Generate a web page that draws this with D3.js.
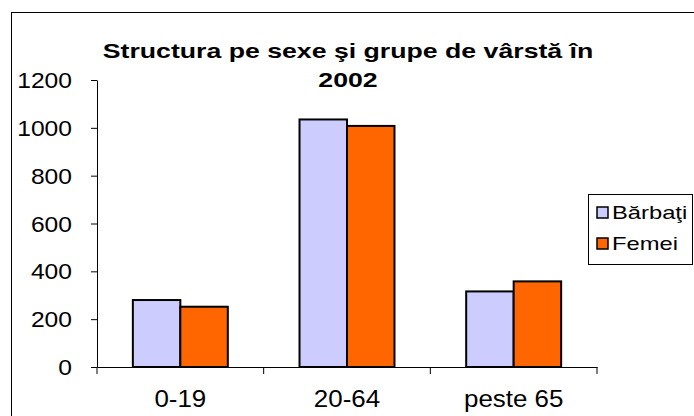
<!DOCTYPE html>
<script src="https://cdn.jsdelivr.net/npm/d3@7"></script>
<html>
    <head>
        <style>
            body { margin: 0; background: #fff; }
            text { font-family: "Liberation Sans", Arial, sans-serif; fill: #000; }
        </style>
    </head>
    <body>
        <div id="chart-div"></div>
        <script>
            // data
            const categories = ["0-19", "20-64", "peste 65"];
            const series = ["Bărbaţi", "Femei"];
            const barbati = [280, 1035, 316];
            const femei = [252, 1008, 358];
            const yTicks = [0, 200, 400, 600, 800, 1000, 1200];
            const titleLines = ["Structura pe sexe şi grupe de vârstă în", "2002"];
            const colors = ["#CCCCFF", "#FF6600"];

            const W = 694, H = 416;
            const margin = { top: 80, right: 97, bottom: 49, left: 97 };
            const width = W - margin.left - margin.right;
            const height = H - margin.top - margin.bottom;

            const root = d3.select("#chart-div")
                .append("svg")
                .attr("width", W)
                .attr("height", H);

            // outer chart frame (right and bottom edges fall outside the picture)
            root.append("rect")
                .attr("x", 11.5).attr("y", 12.5)
                .attr("width", W + 20).attr("height", H + 20)
                .attr("fill", "#fff").attr("stroke", "#000").attr("stroke-width", 1);

            // text is a bit wider than the font, so stretch it horizontally
            function label(sel, x, y, txt, size, sx, anchor, weight) {
                sel.append("g")
                    .attr("transform", "translate(" + x + "," + y + ") scale(" + sx + ",1)")
                    .append("text")
                    .attr("text-anchor", anchor)
                    .attr("font-size", size)
                    .attr("font-weight", weight || "normal")
                    .text(txt);
            }

            // title
            label(root, 348, 58, titleLines[0], 21, 1.27, "middle", "bold");
            label(root, 348, 87, titleLines[1], 21, 1.27, "middle", "bold");

            const svg = root.append("g")
                .attr("transform", "translate(" + margin.left + "," + margin.top + ")");

            const x = d3.scaleBand().domain(categories).range([0, width]).padding(0);
            const x1 = d3.scaleBand().domain(series).range([0, x.bandwidth()]).paddingOuter(0.755).paddingInner(0);
            const y = d3.scaleLinear().domain([0, 1200]).range([height, 0]);

            // y axis
            const yAxis = svg.append("g")
                .call(d3.axisLeft(y).tickValues(yTicks).tickSize(6).tickSizeOuter(0).tickFormat(""));
            yAxis.selectAll("path, line").attr("stroke", "#000");
            yTicks.forEach(function (t) {
                label(svg, -25, y(t) + 8, String(t), 22, 1.12, "end");
            });

            // x axis
            const xAxis = svg.append("g")
                .attr("transform", "translate(0," + height + ")")
                .call(d3.axisBottom(x).tickSize(0).tickSizeOuter(0).tickFormat(""));
            xAxis.select("path").attr("stroke", "#000");
            const edges = categories.map(function (c) { return x(c); }).concat([width]);
            svg.selectAll(".xtick")
                .data(edges)
                .enter()
                .append("line")
                .attr("class", "xtick")
                .attr("x1", function (d) { return d; })
                .attr("x2", function (d) { return d; })
                .attr("y1", height)
                .attr("y2", height + 7)
                .attr("stroke", "#000");
            categories.forEach(function (c) {
                label(svg, x(c) + x.bandwidth() / 2, height + 40, c, 24, 1.08, "middle");
            });

            // bars
            const values = [barbati, femei];
            const rows = categories.map(function (c, i) {
                return series.map(function (s, j) { return { cat: c, s: s, j: j, v: values[j][i] }; });
            });
            svg.selectAll(".grp")
                .data(rows)
                .enter()
                .append("g")
                .attr("transform", function (d) { return "translate(" + x(d[0].cat) + ",0)"; })
                .selectAll("rect")
                .data(function (d) { return d; })
                .enter()
                .append("rect")
                .attr("x", function (d) { return x1(d.s); })
                .attr("y", function (d) { return y(d.v); })
                .attr("width", x1.bandwidth())
                .attr("height", function (d) { return height - y(d.v); })
                .attr("fill", function (d) { return colors[d.j]; })
                .attr("stroke", "#000")
                .attr("stroke-width", 2);

            // legend
            const legend = root.append("g");
            legend.append("rect")
                .attr("x", 588.5).attr("y", 194.5)
                .attr("width", 104).attr("height", 70)
                .attr("fill", "#fff").attr("stroke", "#000").attr("stroke-width", 1);
            series.forEach(function (s, i) {
                legend.append("rect")
                    .attr("x", 597).attr("y", 207 + i * 31)
                    .attr("width", 11).attr("height", 11)
                    .attr("fill", colors[i]).attr("stroke", "#000").attr("stroke-width", 1.5);
                label(legend, 612, 219 + i * 31, s, 19, 1.25, "start");
            });
        </script>
    </body>
</html>
